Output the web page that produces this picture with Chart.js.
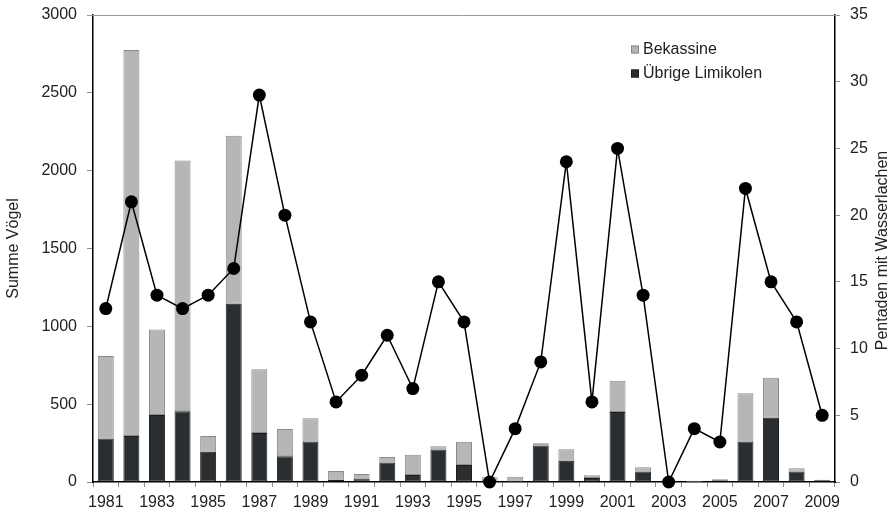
<!DOCTYPE html>
<html>
<head>
<meta charset="utf-8">
<script src="https://cdn.jsdelivr.net/npm/chart.js@4/dist/chart.umd.min.js"></script>
<style>
  html, body { margin: 0; padding: 0; background: #fff; }
  #wrap { width: 891px; height: 514px; }
</style>
</head>
<body>
<div id="wrap"><canvas id="c" width="891" height="514"></canvas></div>
<script>
// Jahre 1981–2009
const years = ['1981','1982','1983','1984','1985','1986','1987','1988','1989','1990',
               '1991','1992','1993','1994','1995','1996','1997','1998','1999','2000',
               '2001','2002','2003','2004','2005','2006','2007','2008','2009'];

// Übrige Limikolen (Anzahl Vögel)
const uebrigeLimikolen = [280, 295, 430, 455, 195, 1145, 315, 165, 260, 15,
                          22, 125, 45, 208, 110, 5, 3, 234, 137, 26,
                          450, 68, 0, 2, 6, 260, 412, 67, 12];

// Bekassine (Anzahl Vögel)
const bekassine = [530, 2480, 550, 1610, 100, 1080, 410, 175, 150, 55,
                   30, 35, 130, 22, 148, 25, 30, 15, 73, 17,
                   200, 27, 0, 6, 11, 310, 258, 21, 2];

// Pentaden mit Wasserlachen
const pentaden = [13, 21, 14, 13, 14, 16, 29, 20, 12, 6,
                  8, 11, 7, 15, 12, 0, 4, 9, 24, 6,
                  25, 14, 0, 4, 3, 22, 15, 12, 5];

// Achsenbeschriftungen
const yLeftTicks = [0, 500, 1000, 1500, 2000, 2500, 3000];
const yRightTicks = [0, 5, 10, 15, 20, 25, 30, 35];

const FONT = "'Liberation Sans', Arial, Helvetica, sans-serif";
const TEXT = '#222';
const COL_BEK = '#b5b6b7';
const COL_LIM = '#2b2e31';

// top frame line, right-hand axis title and in-plot legend
const decorations = {
  id: 'decorations',
  afterDraw(chart) {
    const ctx = chart.ctx;
    const a = chart.chartArea;
    ctx.save();
    // gray top border
    ctx.strokeStyle = '#9a9a9a';
    ctx.lineWidth = 1;
    ctx.beginPath();
    ctx.moveTo(a.left - 6, a.top + 0.5);
    ctx.lineTo(a.right + 5, a.top + 0.5);
    ctx.stroke();

    // right axis title, reading bottom to top
    ctx.fillStyle = TEXT;
    ctx.font = '16px ' + FONT;
    ctx.textAlign = 'center';
    ctx.textBaseline = 'middle';
    ctx.translate(883, (a.top + a.bottom) / 2 + 2);
    ctx.rotate(-Math.PI / 2);
    ctx.fillText('Pentaden mit Wasserlachen', 0, 0);
    ctx.restore();

    // legend
    ctx.save();
    const items = [
      { text: 'Bekassine', fill: COL_BEK, stroke: '#8a8a8a', y: 49.5 },
      { text: 'Übrige Limikolen', fill: COL_LIM, stroke: '#1a1c1e', y: 73.5 }
    ];
    ctx.font = '16px ' + FONT;
    ctx.textAlign = 'left';
    ctx.textBaseline = 'middle';
    items.forEach(it => {
      ctx.fillStyle = it.fill;
      ctx.fillRect(631, it.y - 4, 8, 8);
      ctx.strokeStyle = it.stroke;
      ctx.lineWidth = 1;
      ctx.strokeRect(631.5, it.y - 3.5, 7, 7);
      ctx.fillStyle = TEXT;
      ctx.fillText(it.text, 643, it.y + 0.5);
    });
    ctx.restore();
  }
};

// fixed scale sizes so the plot area sits at a set place
const fixVertical = w => s => { s.width = w; s.paddingTop = 0; s.paddingBottom = 0; };

new Chart(document.getElementById('c'), {
  type: 'bar',
  data: {
    labels: years,
    datasets: [
      {
        type: 'line',
        label: 'Pentaden mit Wasserlachen',
        data: pentaden,
        yAxisID: 'y2',
        borderColor: '#000',
        borderWidth: 1.5,
        backgroundColor: '#000',
        pointRadius: 6.5,
        pointBackgroundColor: '#000',
        pointBorderColor: '#000',
        pointBorderWidth: 0,
        tension: 0,
        clip: false,
        order: 0
      },
      {
        label: 'Übrige Limikolen',
        data: uebrigeLimikolen,
        yAxisID: 'y',
        backgroundColor: COL_LIM,
        borderColor: '#1a1c1e',
        borderWidth: 1,
        borderSkipped: false,
        categoryPercentage: 1,
        barPercentage: 0.625,
        order: 1
      },
      {
        label: 'Bekassine',
        data: bekassine,
        yAxisID: 'y',
        backgroundColor: COL_BEK,
        borderColor: '#8a8a8a',
        borderWidth: 1,
        borderSkipped: false,
        categoryPercentage: 1,
        barPercentage: 0.625,
        order: 1
      }
    ]
  },
  options: {
    responsive: false,
    animation: false,
    devicePixelRatio: 1,
    layout: { padding: { top: 15, left: 0, right: 0, bottom: 0 } },
    plugins: {
      legend: { display: false },
      tooltip: { enabled: false },
      title: { display: false }
    },
    scales: {
      x: {
        stacked: true,
        offset: true,
        grid: { offset: true, drawOnChartArea: false, tickLength: 5, color: '#8c8c8c', lineWidth: 1 },
        border: { color: '#000', width: 1.5 },
        ticks: {
          autoSkip: false,
          maxRotation: 0,
          minRotation: 0,
          padding: 6,
          color: TEXT,
          font: { family: FONT, size: 16 },
          callback: (v, i) => (i % 2 === 0 ? years[i] : '')
        },
        afterFit: s => { s.height = 32; s.paddingLeft = 0; s.paddingRight = 0; }
      },
      y: {
        stacked: true,
        position: 'left',
        min: yLeftTicks[0],
        max: yLeftTicks[yLeftTicks.length - 1],
        afterBuildTicks: s => { s.ticks = yLeftTicks.map(v => ({ value: v })); },
        grid: { drawOnChartArea: false, tickLength: 6, color: '#8c8c8c' },
        border: { color: '#000', width: 1.5 },
        ticks: {
          padding: 10,
          color: TEXT,
          font: { family: FONT, size: 16 },
          callback: v => String(v)
        },
        title: {
          display: true,
          text: 'Summe Vögel',
          color: TEXT,
          font: { family: FONT, size: 16 },
          padding: { top: 4, bottom: 0 }
        },
        afterFit: fixVertical(93)
      },
      y2: {
        position: 'right',
        min: yRightTicks[0],
        max: yRightTicks[yRightTicks.length - 1],
        afterBuildTicks: s => { s.ticks = yRightTicks.map(v => ({ value: v })); },
        grid: { drawOnChartArea: false, tickLength: 5, color: '#8c8c8c' },
        border: { color: '#000', width: 1.5 },
        ticks: {
          padding: 10,
          color: TEXT,
          font: { family: FONT, size: 16 },
          callback: v => String(v)
        },
        afterFit: fixVertical(56)
      }
    }
  },
  plugins: [decorations]
});
</script>
</body>
</html>
